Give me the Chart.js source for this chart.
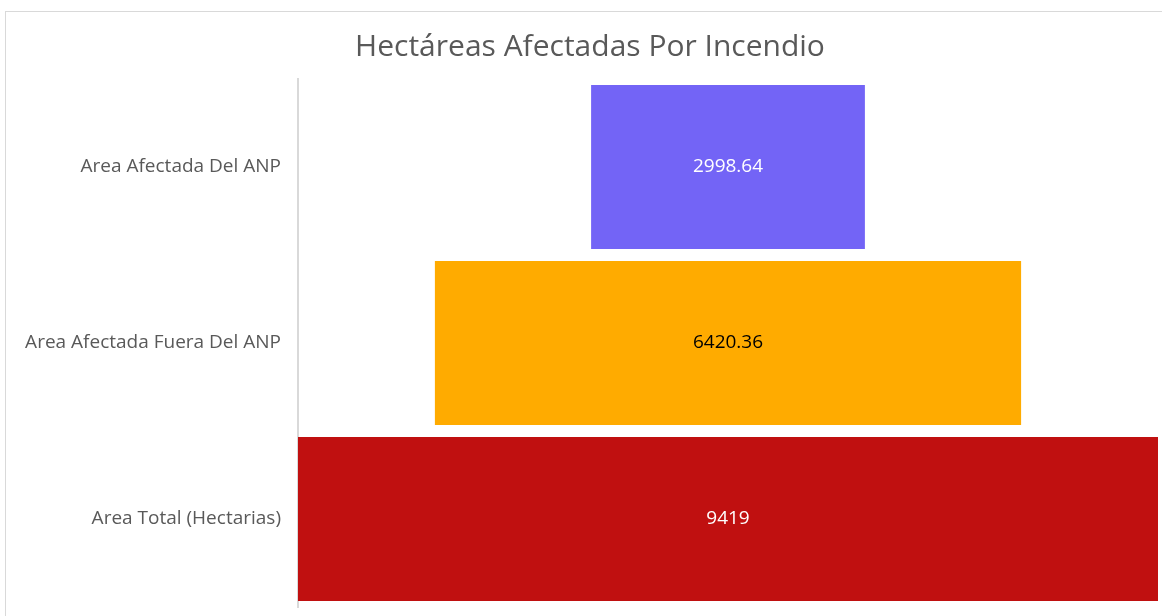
<!DOCTYPE html>
<html><head><meta charset="utf-8">
<script src="https://cdn.jsdelivr.net/npm/chart.js@4/dist/chart.umd.min.js"></script>
<style>
html,body{margin:0;padding:0;background:#fff;overflow:hidden;width:1162px;height:616px;}
#frame{position:absolute;left:5px;top:11px;width:1170px;height:620px;border-left:1px solid #d9d9d9;border-top:1px solid #d9d9d9;}
#wrap{position:absolute;left:0;top:0;width:1162px;height:616px;}
</style></head>
<body>
<div id="frame"></div>
<div id="wrap"><canvas id="c" width="1162" height="616"></canvas></div>
<script>
const titleText = "Hectáreas Afectadas Por Incendio";
const categories = ["Area Afectada Del ANP", "Area Afectada Fuera Del ANP", "Area Total (Hectarias)"];
const values = [2998.64, 6420.36, 9419];
const valueLabels = ["2998.64", "6420.36", "9419"];
const barColors = ["#7364F6", "#FFAB00", "#C01010"];
const labelColors = ["#ffffff", "#000000", "#ffffff"];

const maxV = Math.max(...values);
const floating = values.map(v => [-v / 2, v / 2]);

const dataLabelPlugin = {
  id: 'dataLabels',
  afterDatasetsDraw(chart) {
    const ctx = chart.ctx;
    const meta = chart.getDatasetMeta(0);
    ctx.save();
    ctx.font = '19px "Open Sans", sans-serif';
    ctx.textAlign = 'center';
    ctx.textBaseline = 'middle';
    meta.data.forEach((el, i) => {
      const p = el.getProps(['x', 'y', 'base'], true);
      ctx.fillStyle = labelColors[i];
      ctx.fillText(valueLabels[i], (p.x + p.base) / 2, p.y);
    });
    ctx.restore();
  }
};

new Chart(document.getElementById('c'), {
  type: 'bar',
  data: {
    labels: categories,
    datasets: [{
      data: floating,
      backgroundColor: barColors,
      borderWidth: 0,
      barPercentage: 0.932,
      categoryPercentage: 1.0
    }]
  },
  options: {
    indexAxis: 'y',
    responsive: false,
    animation: false,
    layout: { padding: { left: 22, right: 4, top: 11, bottom: 9 } },
    plugins: {
      legend: { display: false },
      tooltip: { enabled: false },
      title: {
        display: true,
        text: titleText,
        color: '#595959',
        font: { family: '"Open Sans", sans-serif', size: 30, weight: 'normal' },
        padding: { top: 18, bottom: 14 }
      }
    },
    scales: {
      x: {
        display: false,
        min: -maxV / 2,
        max: maxV / 2
      },
      y: {
        afterFit(scale) {
          scale.width = 276;
          scale.paddingTop = 0;
          scale.paddingBottom = 0;
        },
        grid: { display: false, drawTicks: false },
        border: { display: true, color: '#d9d9d9', width: 2 },
        ticks: {
          color: '#595959',
          padding: 17,
          font: { family: '"Open Sans", sans-serif', size: 19 }
        }
      }
    }
  },
  plugins: [dataLabelPlugin]
});
</script>
</body></html>
